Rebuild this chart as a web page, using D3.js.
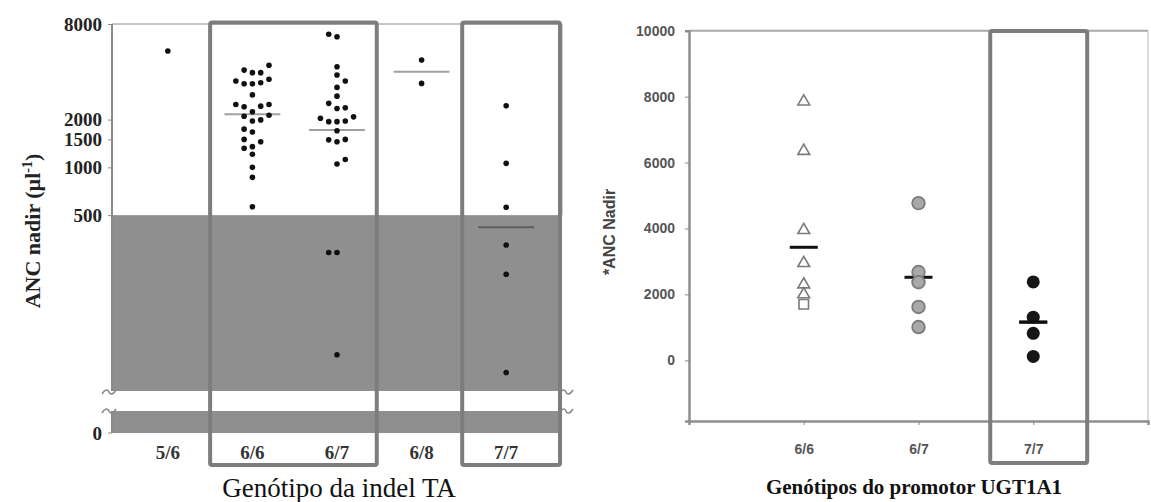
<!DOCTYPE html>
<html><head><meta charset="utf-8">
<script src="https://cdn.jsdelivr.net/npm/d3@7"></script>
<style>body{margin:0;background:#fff}svg{display:block}</style>
</head><body><svg id="c" width="1151" height="502"></svg>
<script>
// ---------- LEFT PANEL DATA (ANC nadir, log scale) ----------
const leftCategories = ["5/6","6/6","6/7","6/8","7/7"];
const leftTicks = [500,1000,1500,2000,8000];
const anc56 = [5410];
const slot56 = [0];
const anc66 = [4400,4100,3950,3950,3500,3360,3360,3410,3590,2860,2490,2410,2430,2490,2240,2100,2130,1960,1990,1740,1670,1500,1450,1320,1350,1210,1000,865,565];
const slot66 = [2,-1,0,1,-2,-1,0,1,2,0,-2,-1,1,2,0,-1,2,0,1,-1,0,-1,1,-1,0,0,0,0,0];
const anc67 = [6890,6650,4300,3820,3500,3190,2810,2530,2350,2375,2040,1940,1940,1960,2080,1700,1490,1450,1500,1050,1120,291,291,66];
const slot67 = [-1,0,0,0,1,0,0,-1,0,1,-2,-1,0,1,2,0,-1,0,1,0,1,-1,0,0];
const anc68 = [4740,3380];
const slot68 = [0,0];
const anc77 = [2440,1060,560,324,212,51];
const slot77 = [0,0,0,0,0,0];
const leftMedians = [null,2160,1720,4000,420];
const leftThreshold = 500;

// ---------- RIGHT PANEL DATA (ANC nadir, linear) ----------
const rightCategories = ["6/6","6/7","7/7"];
const rightTicks = [0,2000,4000,6000,8000,10000];
const anc66Triangles = [7850,6350,3950,2950,2300,2000];
const anc66Squares = [1700];
const anc67Circles = [4770,2680,2370,1620,1010];
const anc77Dots = [2380,1310,820,120];
const rightMedians = [3430,2520,1160];

const svg = d3.select("#c");
const serif = "'Liberation Serif','Times New Roman',serif";
const sans = "'Liberation Sans',Arial,sans-serif";

// ================= LEFT =================
const L = {left:112, right:562, top:24, logBottom:391, zeroTop:411, zero:433};
const xL = d3.scalePoint().domain(leftCategories).range([L.left, L.right]).padding(0.66);
const yL = d3.scaleLog().domain([39, 8000]).range([L.logBottom, L.top]);
const slotW = xL.step()*0.098;
const gL = svg.append("g");
const bandColor = "#8f8f8f";

gL.append("rect").attr("x",L.left).attr("y",yL(leftThreshold)).attr("width",L.right-L.left)
  .attr("height",L.logBottom-yL(leftThreshold)).attr("fill",bandColor);
gL.append("rect").attr("x",L.left).attr("y",L.zeroTop).attr("width",L.right-L.left)
  .attr("height",L.zero-L.zeroTop).attr("fill",bandColor);

// frame
gL.append("line").attr("x1",L.left).attr("x2",L.right).attr("y1",L.top).attr("y2",L.top).attr("stroke","#c4c4c4").attr("stroke-width",2);
gL.append("line").attr("x1",L.right).attr("x2",L.right).attr("y1",L.top).attr("y2",yL(leftThreshold)).attr("stroke","#d0d0d0").attr("stroke-width",2);
gL.append("line").attr("x1",L.left).attr("x2",L.left).attr("y1",L.top).attr("y2",L.logBottom).attr("stroke","#8a8a8a").attr("stroke-width",2);
gL.append("line").attr("x1",L.left).attr("x2",L.left).attr("y1",L.zeroTop).attr("y2",L.zero).attr("stroke","#8a8a8a").attr("stroke-width",2);

// y axis
const axL = gL.append("g").attr("transform",`translate(${L.left},0)`)
  .call(d3.axisLeft(yL).tickValues(leftTicks).tickFormat(d3.format("d")).tickSize(4).tickPadding(6));
axL.select(".domain").remove();
axL.selectAll(".tick line").attr("stroke","#888");
axL.selectAll("text").attr("font-family",serif).attr("font-weight","bold").attr("font-size",19).attr("fill","#222");
gL.append("text").attr("x",L.left-10).attr("y",L.zero).attr("dy","0.35em").attr("text-anchor","end")
  .attr("font-family",serif).attr("font-weight","bold").attr("font-size",19).attr("fill","#222").text("0");
gL.append("line").attr("x1",L.left-4).attr("x2",L.left).attr("y1",L.zero).attr("y2",L.zero).attr("stroke","#888");

// break marks
function squiggle(cx, cy){
  gL.append("path").attr("d",`M${cx-7},${cy+2} C${cx-4},${cy-3} ${cx-1},${cy-3} ${cx},${cy} S${cx+4},${cy+3} ${cx+7},${cy-2}`)
    .attr("fill","none").attr("stroke","#888").attr("stroke-width",1.5);
}
squiggle(L.left-3, L.logBottom+1); squiggle(L.left-3, L.zeroTop);
squiggle(L.right+4, L.logBottom+1); squiggle(L.right+4, L.zeroTop);

// medians
leftCategories.forEach((c,i)=>{
  if(leftMedians[i]==null) return;
  const inBand = leftMedians[i] < leftThreshold;
  gL.append("line").attr("x1",xL(c)-xL.step()*0.33).attr("x2",xL(c)+xL.step()*0.33)
    .attr("y1",yL(leftMedians[i])).attr("y2",yL(leftMedians[i]))
    .attr("stroke", inBand ? "#5e5e5e" : "#a0a0a0").attr("stroke-width",2);
});

// dots
const leftGroups = [[anc56,slot56],[anc66,slot66],[anc67,slot67],[anc68,slot68],[anc77,slot77]];
leftGroups.forEach(([vals,slots],i)=>{
  gL.selectAll(null).data(vals).enter().append("circle")
    .attr("cx",(d,j)=>xL(leftCategories[i])+slots[j]*slotW)
    .attr("cy",d=>yL(d)).attr("r",2.8).attr("fill","#111");
});

// x labels
leftCategories.forEach(c=>{
  gL.append("text").attr("x",xL(c)).attr("y",459).attr("text-anchor","middle")
    .attr("font-family",serif).attr("font-weight","bold").attr("font-size",19).attr("fill","#333").text(c);
});

// highlight boxes
const stL = xL.step();
gL.append("rect").attr("x",xL("6/6")-stL*0.5).attr("y",22.5).attr("width",(xL("6/7")+stL*0.47)-(xL("6/6")-stL*0.5)).attr("height",442.5)
  .attr("fill","none").attr("stroke","#7d7d7d").attr("stroke-width",4).attr("rx",2);
gL.append("rect").attr("x",xL("7/7")-stL*0.52).attr("y",22.5).attr("width",(L.right-2)-(xL("7/7")-stL*0.52)).attr("height",442.5)
  .attr("fill","none").attr("stroke","#7d7d7d").attr("stroke-width",4).attr("rx",2);

// titles
gL.append("text").attr("x",339).attr("y",497).attr("text-anchor","middle")
  .attr("font-family",serif).attr("font-size",27).attr("fill","#111").text("Genótipo da indel TA");
const yt = gL.append("text").attr("transform","translate(40,231) rotate(-90)").attr("text-anchor","middle")
  .attr("font-family",serif).attr("font-weight","bold").attr("font-size",22).attr("fill","#222");
yt.append("tspan").text("ANC nadir (µl");
yt.append("tspan").attr("dy",-8).attr("font-size",14).text("-1");
yt.append("tspan").attr("dy",8).text(")");

// ================= RIGHT =================
const R = {left:689, right:1148, top:30.7, bottom:421};
const xR = d3.scalePoint().domain(rightCategories).range([R.left, R.right]).padding(1);
const yR = d3.scaleLinear().domain([-1840, 10000]).range([R.bottom, R.top]);
const gR = svg.append("g");

gR.append("line").attr("x1",R.left).attr("x2",R.right).attr("y1",R.top).attr("y2",R.top).attr("stroke","#a8a8a8").attr("stroke-width",2);
gR.append("line").attr("x1",R.right).attr("x2",R.right).attr("y1",R.top).attr("y2",R.bottom).attr("stroke","#cfcfcf").attr("stroke-width",1.5);

const axRy = gR.append("g").attr("transform",`translate(${R.left},0)`)
  .call(d3.axisLeft(yR).tickValues(rightTicks).tickFormat(d3.format("d")).tickSize(4).tickPadding(10));
axRy.select(".domain").attr("stroke","#8f8f8f").attr("stroke-width",2.5);
axRy.selectAll(".tick line").attr("stroke","#888");
axRy.selectAll("text").attr("font-family",sans).attr("font-weight","bold").attr("font-size",14).attr("fill","#555");

const axRx = gR.append("g").attr("transform",`translate(0,${R.bottom})`)
  .call(d3.axisBottom(xR).tickSize(4).tickPadding(19));
axRx.select(".domain").attr("stroke","#8f8f8f").attr("stroke-width",2.5);
axRx.selectAll(".tick line").attr("stroke","#888");
axRx.selectAll("text").attr("font-family",sans).attr("font-weight","bold").attr("font-size",14).attr("fill","#555");

// medians
rightCategories.forEach((c,i)=>{
  gR.append("line").attr("x1",xR(c)-14).attr("x2",xR(c)+14)
    .attr("y1",yR(rightMedians[i])).attr("y2",yR(rightMedians[i]))
    .attr("stroke","#111").attr("stroke-width",3);
});

// markers
gR.selectAll(null).data(anc66Triangles).enter().append("path")
  .attr("d",d3.symbol(d3.symbolTriangle).size(60)())
  .attr("transform",d=>`translate(${xR("6/6")},${yR(d)})`)
  .attr("fill","#fff").attr("stroke","#7a7a7a").attr("stroke-width",1.6);
gR.selectAll(null).data(anc66Squares).enter().append("path")
  .attr("d",d3.symbol(d3.symbolSquare).size(90)())
  .attr("transform",d=>`translate(${xR("6/6")},${yR(d)})`)
  .attr("fill","#fff").attr("stroke","#7a7a7a").attr("stroke-width",1.6);
gR.selectAll(null).data(anc67Circles).enter().append("circle")
  .attr("cx",xR("6/7")).attr("cy",d=>yR(d)).attr("r",6.3)
  .attr("fill","#a9a9a9").attr("stroke","#7c7c7c").attr("stroke-width",1.8);
gR.selectAll(null).data(anc77Dots).enter().append("circle")
  .attr("cx",xR("7/7")).attr("cy",d=>yR(d)).attr("r",6.5)
  .attr("fill","#161616");
gR.append("line").attr("x1",xR("7/7")-14).attr("x2",xR("7/7")+14)
  .attr("y1",yR(rightMedians[2])).attr("y2",yR(rightMedians[2]))
  .attr("stroke","#111").attr("stroke-width",3);

// highlight box
const stR = xR.step();
gR.append("rect").attr("x",xR("7/7")-stR*0.375).attr("y",31).attr("width",stR*0.845).attr("height",432)
  .attr("fill","none").attr("stroke","#7d7d7d").attr("stroke-width",4).attr("rx",2);

// titles
gR.append("text").attr("x",914).attr("y",494).attr("text-anchor","middle")
  .attr("font-family",serif).attr("font-weight","bold").attr("font-size",21).attr("fill","#111").text("Genótipos do promotor UGT1A1");
gR.append("text").attr("transform","translate(615,232) rotate(-90)").attr("text-anchor","middle")
  .attr("font-family",sans).attr("font-weight","bold").attr("font-size",16).attr("fill","#444").text("*ANC Nadir");
</script></body></html>
